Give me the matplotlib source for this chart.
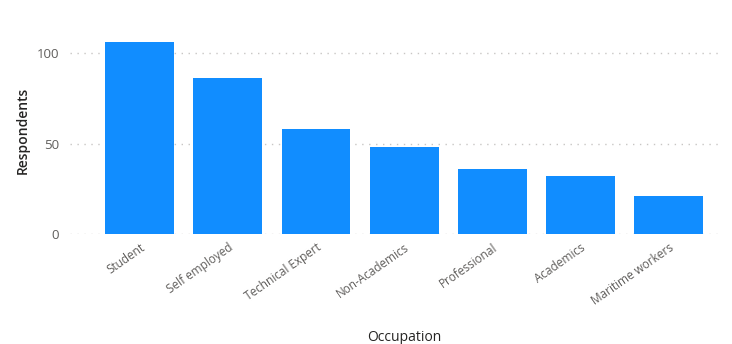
import matplotlib
matplotlib.use("Agg")
import matplotlib.pyplot as plt

# Respondents by occupation
occupations = ["Student", "Self employed", "Technical Expert", "Non-Academics",
               "Professional", "Academics", "Maritime workers"]
respondents = [106, 86, 58, 48, 36, 32, 21]

plt.rcParams["font.family"] = ["Open Sans", "DejaVu Sans"]

fig = plt.figure(figsize=(7.32, 3.44), dpi=100)
ax = fig.add_axes([0.0956, 0.3198, 0.888, 0.5785])

x = range(len(occupations))
ax.bar(x, respondents, width=0.78, color="#118DFF", zorder=2)

ax.set_xlim(-0.79, 6.58)
ax.set_ylim(0, 110)
ax.set_yticks([0, 50, 100])
ax.yaxis.grid(True, linestyle=(0, (1, 4)), color="#C8C6C4", linewidth=1, zorder=0)

ax.set_xticks(list(x))
ax.set_xticklabels(occupations, rotation=35, ha="right", rotation_mode="anchor",
                   fontsize=8.5, color="#605E5C")
ax.tick_params(axis="y", labelsize=9.5, labelcolor="#605E5C", length=0, pad=8)
ax.tick_params(axis="x", length=0, pad=5)

for s in ax.spines.values():
    s.set_visible(False)

ax.set_ylabel("Respondents", fontsize=10, color="#252423", fontweight="semibold")
ax.yaxis.set_label_coords(-0.062, 0.52)
ax.set_xlabel("Occupation", fontsize=10, color="#252423", va="center")
ax.xaxis.set_label_coords(0.515, -0.52)

fig.savefig("out.png", dpi=100)
